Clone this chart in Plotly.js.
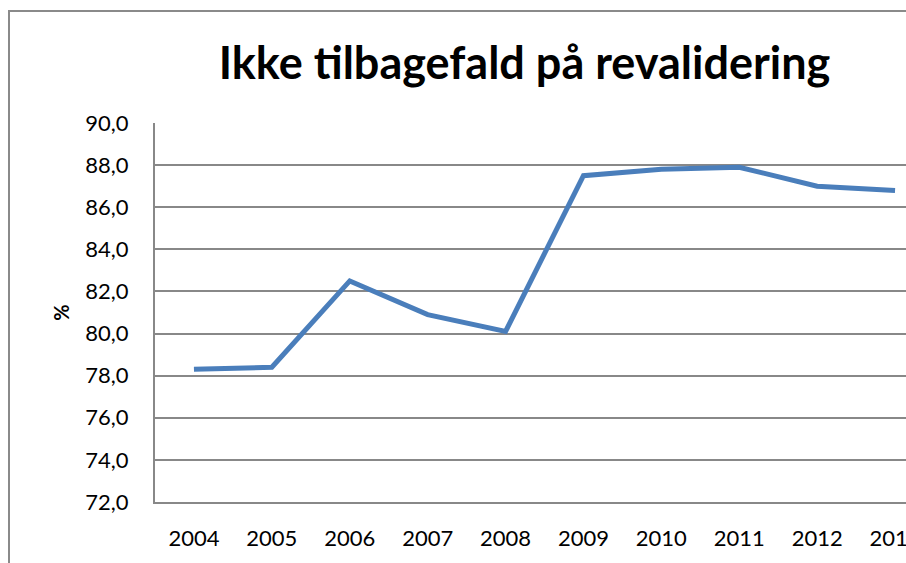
<!DOCTYPE html>
<html>
<head>
<meta charset="utf-8">
<script src="https://cdn.plot.ly/plotly-3.0.1.min.js"></script>
<style>
html, body { margin: 0; padding: 0; overflow: hidden; background: #fff; width: 906px; height: 563px; }
#wrap { position: absolute; left: 8px; top: 10px; border: 2px solid #8a8a8a; }
#chart { width: 960px; height: 600px; }
</style>
</head>
<body>
<div id="wrap"><div id="chart"></div></div>
<script>
const years = ['2004','2005','2006','2007','2008','2009','2010','2011','2012','2013'];
const values = [78.3, 78.4, 82.5, 80.9, 80.1, 87.5, 87.8, 87.9, 87.0, 86.8];
const yTicks = [72, 74, 76, 78, 80, 82, 84, 86, 88, 90];

const font = 'Lato, "Open Sans", sans-serif';

Plotly.newPlot('chart', [{
  x: years,
  y: values,
  type: 'scatter',
  mode: 'lines',
  line: { color: '#4a7ebb', width: 5 },
  hoverinfo: 'skip'
}], {
  width: 960,
  height: 600,
  margin: { l: 145, r: 36, t: 111, b: 110 },
  paper_bgcolor: '#ffffff',
  plot_bgcolor: '#ffffff',
  separators: ',.',
  showlegend: false,
  font: { family: font, color: '#000000', size: 22 },
  title: {
    text: '<b>Ikke tilbagefald på revalidering</b>',
    font: { family: font, size: 45, color: '#000000' },
    xref: 'container', yref: 'container',
    x: 0.536, xanchor: 'center',
    y: 0.915, yanchor: 'middle'
  },
  xaxis: {
    type: 'category',
    range: [-0.5, 9.5],
    showgrid: false,
    zeroline: false,
    showline: true,
    linecolor: '#888888',
    linewidth: 2,
    ticks: 'outside', ticklen: 16, tickcolor: 'rgba(0,0,0,0)',
    tickfont: { family: font, size: 22, color: '#000' },
    fixedrange: true
  },
  yaxis: {
    range: [72, 90],
    tickvals: yTicks,
    tickformat: '.1f',
    showgrid: true,
    gridcolor: '#888888',
    gridwidth: 2,
    zeroline: false,
    showline: true,
    linecolor: '#888888',
    linewidth: 2,
    ticks: 'outside', ticklen: 20, tickcolor: 'rgba(0,0,0,0)',
    tickfont: { family: font, size: 22, color: '#000' },
    title: { text: '<b>%</b>', font: { family: font, size: 20, color: '#000' }, standoff: 10 },
    fixedrange: true
  }
}, { displayModeBar: false, staticPlot: true });
</script>
</body>
</html>
